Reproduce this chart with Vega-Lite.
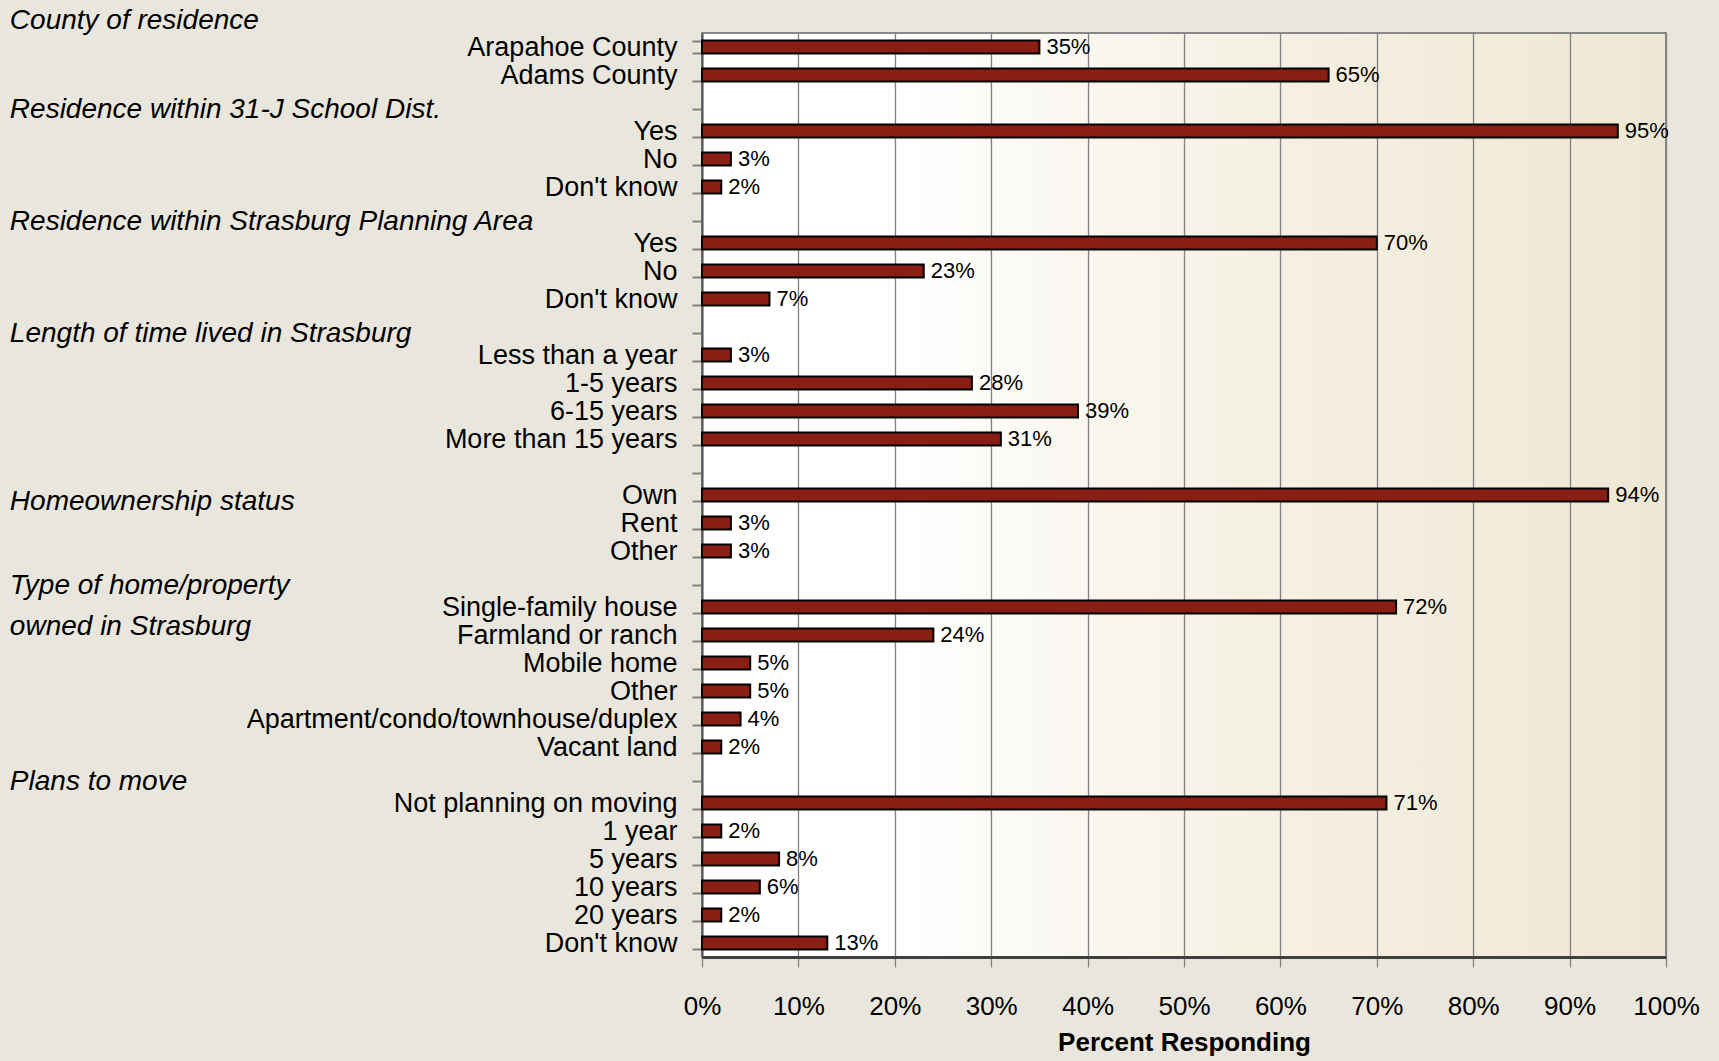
{
  "$schema": "https://vega.github.io/schema/vega-lite/v6.json",
  "width": 964,
  "height": 924,
  "autosize": {"type": "none"},
  "padding": {"left": 702, "top": 33, "right": 53, "bottom": 104},
  "background": "#e9e7dd",
  "config": {
    "font": "Liberation Sans",
    "view": {
      "fill": {
        "gradient": "linear",
        "x1": 0, "y1": 0, "x2": 1, "y2": 0,
        "stops": [
          {"offset": 0, "color": "#ffffff"},
          {"offset": 0.2, "color": "#ffffff"},
          {"offset": 0.55, "color": "#f6f1e5"},
          {"offset": 1, "color": "#eee7d3"}
        ]
      },
      "stroke": "#888888",
      "strokeWidth": 2
    },
    "text": {"color": "#000000"}
  },
  "data": {
    "values": [
      {"row": "01 Arapahoe County", "pct": 0.35, "heading": "County of residence"},
      {"row": "02 Adams County", "pct": 0.65},
      {"row": "03 ", "heading": "Residence within 31-J School Dist."},
      {"row": "04 Yes", "pct": 0.95},
      {"row": "05 No", "pct": 0.03},
      {"row": "06 Don't know", "pct": 0.02},
      {"row": "07 ", "heading": "Residence within Strasburg Planning Area"},
      {"row": "08 Yes", "pct": 0.70},
      {"row": "09 No", "pct": 0.23},
      {"row": "10 Don't know", "pct": 0.07},
      {"row": "11 ", "heading": "Length of time lived in Strasburg"},
      {"row": "12 Less than a year", "pct": 0.03},
      {"row": "13 1-5 years", "pct": 0.28},
      {"row": "14 6-15 years", "pct": 0.39},
      {"row": "15 More than 15 years", "pct": 0.31},
      {"row": "16 "},
      {"row": "17 Own", "pct": 0.94, "heading": "Homeownership status"},
      {"row": "18 Rent", "pct": 0.03},
      {"row": "19 Other", "pct": 0.03},
      {"row": "20 ", "heading": "Type of home/property\nowned in Strasburg"},
      {"row": "21 Single-family house", "pct": 0.72},
      {"row": "22 Farmland or ranch", "pct": 0.24},
      {"row": "23 Mobile home", "pct": 0.05},
      {"row": "24 Other", "pct": 0.05},
      {"row": "25 Apartment/condo/townhouse/duplex", "pct": 0.04},
      {"row": "26 Vacant land", "pct": 0.02},
      {"row": "27 ", "heading": "Plans to move"},
      {"row": "28 Not planning on moving", "pct": 0.71},
      {"row": "29 1 year", "pct": 0.02},
      {"row": "30 5 years", "pct": 0.08},
      {"row": "31 10 years", "pct": 0.06},
      {"row": "32 20 years", "pct": 0.02},
      {"row": "33 Don't know", "pct": 0.13}
    ]
  },
  "encoding": {
    "y": {
      "field": "row",
      "type": "ordinal",
      "scale": {"paddingInner": 0.54, "paddingOuter": 0.27},
      "axis": {
        "title": null,
        "labelExpr": "datum.value ? substring(datum.value, 3) : ''",
        "tickBand": "extent",
        "labelFontSize": 27,
        "labelColor": "#000000",
        "labelPadding": 15,
        "labelLimit": 1000,
        "tickSize": 10,
        "tickColor": "#808080",
        "tickWidth": 2,
        "domainColor": "#555555",
        "domainWidth": 2,
        "grid": false
      }
    }
  },
  "layer": [
    {
      "mark": {"type": "bar", "fill": "#8a1e12", "stroke": "#000000", "strokeWidth": 2},
      "encoding": {
        "x": {
          "field": "pct",
          "type": "quantitative",
          "scale": {"domain": [0, 1], "nice": false},
          "axis": {
            "title": "Percent Responding",
            "format": ".0%",
            "tickCount": 10,
            "labelFlush": false,
            "labelFontSize": 26,
            "labelColor": "#000000",
            "labelPadding": 26,
            "tickSize": 10,
            "tickColor": "#808080",
            "tickWidth": 1.3,
            "grid": true,
            "gridColor": "#808080",
            "gridWidth": 1.3,
            "gridOpacity": 1,
            "domainColor": "#404040",
            "domainWidth": 3,
            "titleFontSize": 26,
            "titleFontWeight": "bold",
            "titleColor": "#000000",
            "titlePadding": 10
          }
        }
      }
    },
    {
      "mark": {"type": "text", "align": "left", "baseline": "middle", "dx": 7, "fontSize": 22},
      "encoding": {
        "x": {"field": "pct", "type": "quantitative"},
        "text": {"field": "pct", "type": "quantitative", "format": ".0%"}
      }
    },
    {
      "mark": {"type": "text", "align": "left", "baseline": "top", "dy": -7, "lineBreak": "\n", "lineHeight": 41, "fontStyle": "italic", "fontSize": 28},
      "encoding": {
        "x": {"datum": -0.718},
        "text": {
          "condition": {"test": "datum.row < '02' || !datum.heading", "value": ""},
          "field": "heading",
          "type": "nominal"
        }
      }
    },
    {
      "transform": [{"filter": "datum.row < '02'"}],
      "mark": {"type": "text", "align": "left", "baseline": "middle", "dy": -26, "fontStyle": "italic", "fontSize": 28},
      "encoding": {
        "x": {"datum": -0.718},
        "text": {"field": "heading", "type": "nominal"}
      }
    }
  ]
}
